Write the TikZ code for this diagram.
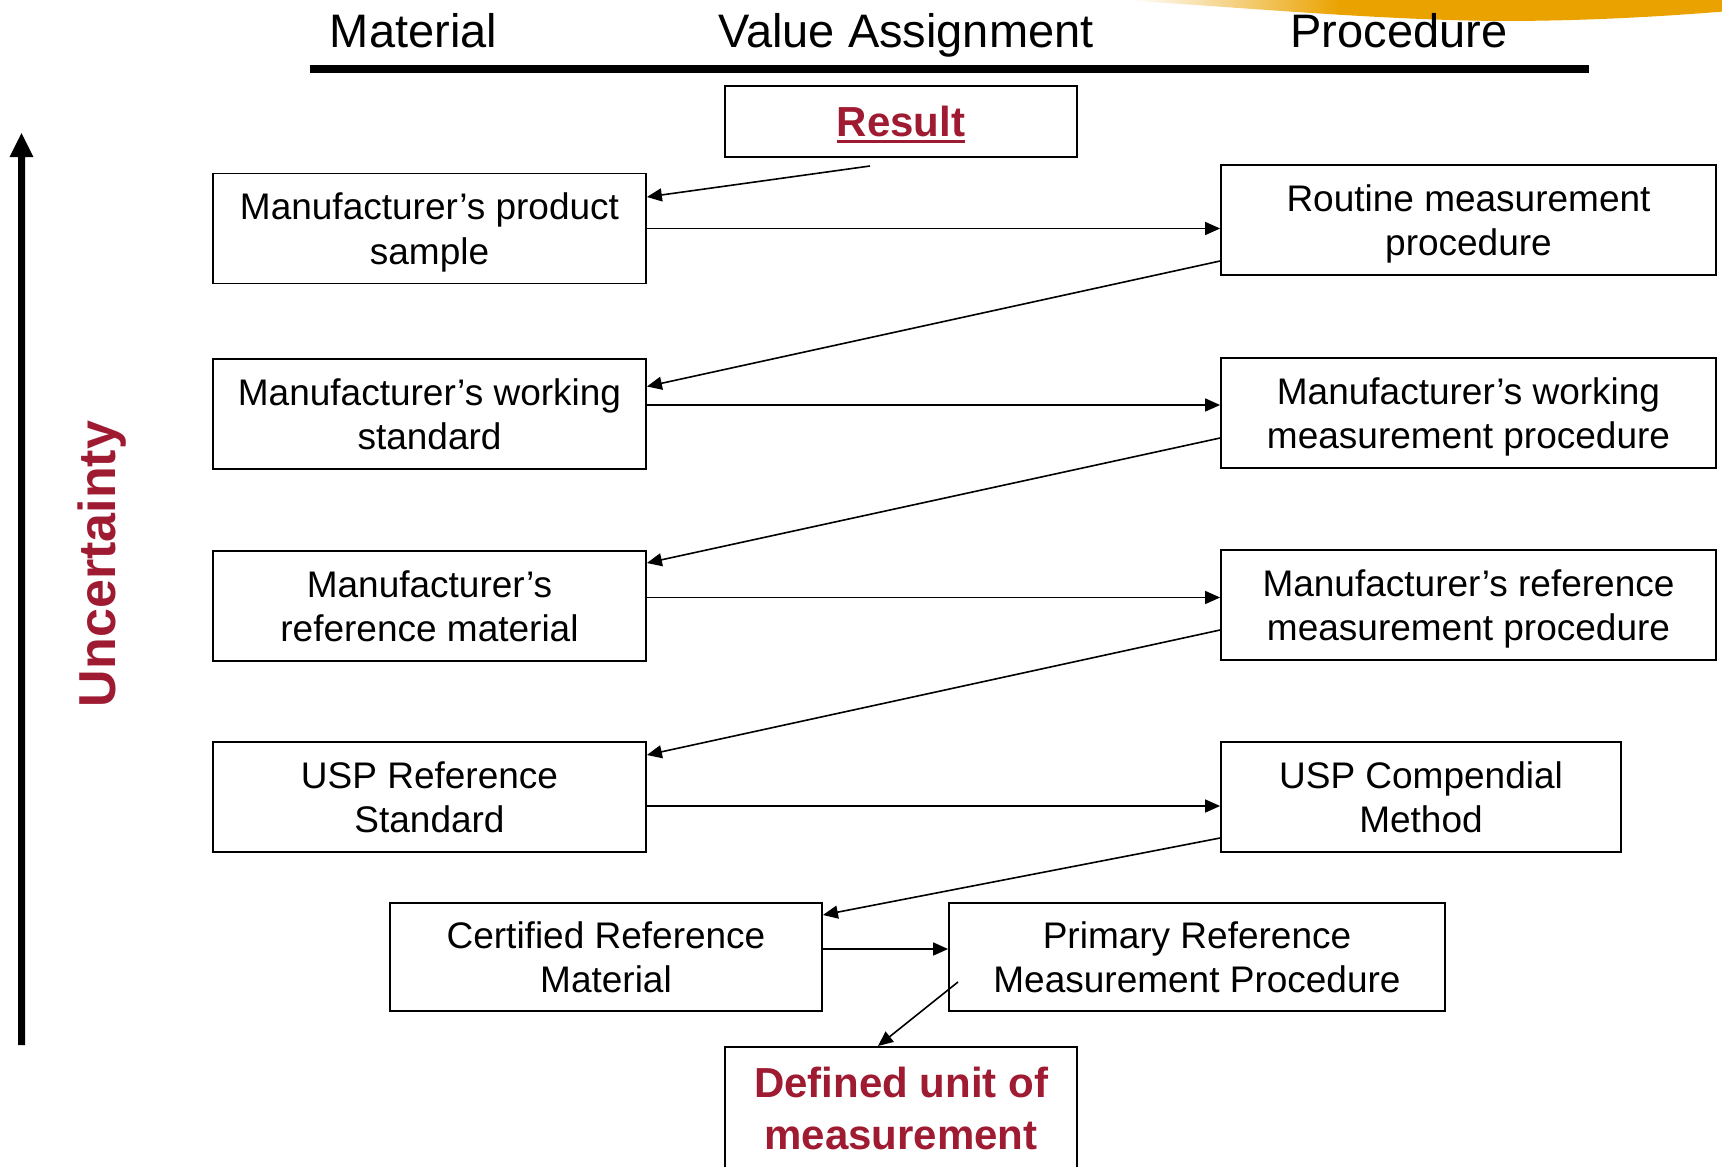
\documentclass[tikz,border=0pt]{standalone}
\usepackage{fontspec}
\setmainfont{Liberation Sans}
\usetikzlibrary{arrows.meta,calc}
\definecolor{usred}{RGB}{158,27,50}
\definecolor{swoosh}{RGB}{234,162,0}
\newsavebox\myulbox
\newcommand{\myul}[1]{\sbox\myulbox{#1}\rlap{\rule[-6.5pt]{\wd\myulbox}{3pt}}\usebox\myulbox}
\begin{document}
\begin{tikzpicture}[x=1pt,y=1pt,
  box/.style={draw=black, line width=1.8pt, inner sep=0pt, align=center,
    font=\fontsize{37}{44.5}\selectfont, text height=71.5pt, text depth=0pt},
  lbox/.style={box, minimum width=433pt, minimum height=110pt},
  rbox/.style={box, minimum width=495pt, minimum height=110pt},
  head/.style={anchor=base, font=\fontsize{47}{56}\selectfont},
  arr/.style={line width=1.6pt, -{Triangle[length=15pt,width=13pt]}}
]
\useasboundingbox (0,0) rectangle (1722,-1167);
\clip (0,0) rectangle (1722,-1167);
\fill[white] (0,0) rectangle (1722,-1167);

% orange swoosh
\begin{scope}
  \clip (1120,5) -- (1120,0) .. controls (1250,-8) and (1380,-20) .. (1500,-21)
        .. controls (1600,-21) and (1680,-15) .. (1730,-11) -- (1730,5) -- cycle;
  \shade[left color=white, right color=swoosh] (1130,-30) rectangle (1340,8);
  \fill[swoosh] (1339,-30) rectangle (1735,8);
\end{scope}

% header
\node[head] (hM) at (413.5,-47) {Material};
\node[head] (hV) at (906,-47) {Value Assignment};
\node[head] (hP) at (1399,-47) {Procedure};
\draw[line width=8pt] (310,-69) -- (1589,-69);

% uncertainty arrow
\fill (18,-1045) -- (25,-1045) -- (25,-157) -- (33.5,-157) -- (21.5,-133) -- (9.5,-157) -- (18,-157) -- cycle;
\node[rotate=90, anchor=base, font=\bfseries\fontsize{52}{60}\selectfont, text=usred] (unc) at (115,-564) {Uncertainty};

% result
\node[draw, line width=1.8pt, minimum width=352pt, minimum height=71pt, inner sep=0pt,
  text height=30pt, text depth=0pt, font=\bfseries\fontsize{42}{50}\selectfont, text=usred]
  (res) at (901,-121.5) {\myul{Result}};

% left column
\node[lbox] (L1) at (429.5,-228.5) {Manufacturer’s product\\sample};
\node[lbox] (L2) at (429.5,-414) {Manufacturer’s working\\standard};
\node[lbox] (L3) at (429.5,-606) {Manufacturer’s\\reference material};
\node[lbox] (L4) at (429.5,-797) {USP Reference\\Standard};

% right column
\node[rbox] (R1) at (1468.5,-220) {Routine measurement\\procedure};
\node[rbox] (R2) at (1468.5,-413) {Manufacturer’s working\\measurement procedure};
\node[rbox] (R3) at (1468.5,-605) {Manufacturer’s reference\\measurement procedure};
\node[box, minimum width=400pt, minimum height=110pt] (R4) at (1421,-797) {USP Compendial\\Method};

% bottom
\node[box, minimum width=432pt, minimum height=108pt] (CRM) at (606,-957) {Certified Reference\\Material};
\node[box, minimum width=496pt, minimum height=108pt] (PRM) at (1197,-957) {Primary Reference\\Measurement Procedure};
\node[draw, line width=1.8pt, minimum width=352pt, inner sep=0pt, align=center,
  text height=103pt, text depth=38pt, font=\bfseries\fontsize{42}{52}\selectfont, text=usred,
  anchor=north] (def) at (901,-1046) {Defined unit of\\measurement};

% free ends
\coordinate (rs) at (870,-166);
\coordinate (ps) at (958,-982);

% connectors
\draw[arr] (rs) -- ($(L1.east)+(0,31.5)$);
\draw[arr] (L1.east) -- (L1.east -| R1.west);
\draw[arr] ($(R1.west)+(0,-41)$) -- ($(L2.east)+(0,27.5)$);
\draw[arr] ($(L2.east)+(0,9)$) -- ($(L2.east -| R2.west)+(0,9)$);
\draw[arr] ($(R2.west)+(0,-25)$) -- ($(L3.east)+(0,43)$);
\draw[arr] ($(L3.east)+(0,8.5)$) -- ($(L3.east -| R3.west)+(0,8.5)$);
\draw[arr] ($(R3.west)+(0,-25)$) -- ($(L4.east)+(0,42)$);
\draw[arr] ($(L4.east)+(0,-9)$) -- ($(L4.east -| R4.west)+(0,-9)$);
\draw[arr] ($(R4.west)+(0,-41)$) -- ($(CRM.east)+(0,42)$);
\draw[arr] ($(CRM.east)+(0,8)$) -- ($(CRM.east -| PRM.west)+(0,8)$);
\draw[arr] (ps) -- ($(def.north)+(-23,0)$);
\end{tikzpicture}
\end{document}
